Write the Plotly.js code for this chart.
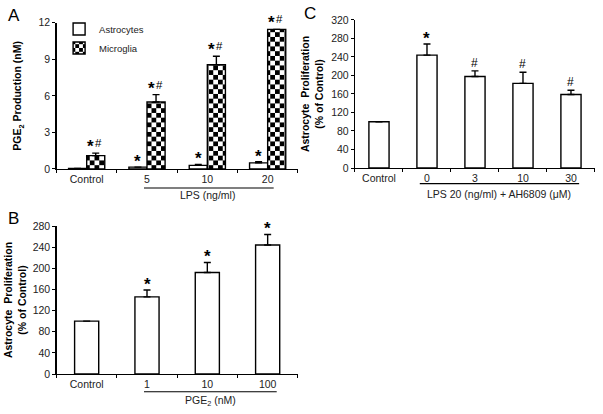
<!DOCTYPE html>
<html>
<head>
<meta charset="utf-8">
<script src="https://cdn.plot.ly/plotly-3.0.1.min.js"></script>
<style>
  body { margin: 0; background: #fff; }
  #graph { width: 603px; height: 414px; }
</style>
</head>
<body>
<div id="graph"></div>
<script>
// panel A - PGE2 production
var catsA = ['Control', '5', '10', '20'];
var astroA = [0.05, 0.15, 0.3, 0.5];
var astroErrA = [0, 0, 0.08, 0.1];
var microA = [1.1, 5.5, 8.55, 11.45];
var microErrA = [0.2, 0.6, 0.7, 0];
var astroMarkA = ['', '*', '*', '*'];
var microMarkA = ['*#', '*#', '*#', '*#'];

// panel B - PGE2 dose
var catsB = ['Control', '1', '10', '100'];
var valsB = [100, 146, 192, 244];
var errB = [0, 13, 19, 20];
var markB = ['', '*', '*', '*'];

// panel C - AH6809
var catsC = ['Control', '0', '3', '10', '30'];
var valsC = [100, 244, 198, 183, 159];
var errC = [0, 24, 12, 24, 9];
var markC = ['', '*', '#', '#', '#'];

var FONT = 'Liberation Sans, Arial, sans-serif';

function drawGraph() {
    var data, layout, annots = [], shapes = [];

    function bars(xs, ys, errs, xa, ya, name, w, off, pattern) {
        var t = {
            x: xs, y: ys, type: 'bar', xaxis: xa, yaxis: ya, name: name,
            width: w, offset: off,
            showlegend: !!name,
            marker: {color: 'white', line: {color: 'black', width: 1.4}},
            error_y: {type: 'data', array: errs, arrayminus: errs.map(function() { return 0; }),
                symmetric: false, color: 'black', thickness: 1.4, width: 3.5}
        };
        if(pattern) {
            t.marker.pattern = {shape: '+', size: 9.5, bgcolor: 'white', fgcolor: 'black', solidity: 0.5};
        }
        return t;
    }

    function note(xa, ya, x, y, txt, size, xsh, ysh) {
        annots.push({
            xref: xa, yref: ya, x: x, y: y, text: txt, showarrow: false,
            yanchor: 'bottom', xshift: xsh, yshift: ysh,
            font: {family: FONT, size: size, color: 'black'}
        });
    }

    // star / hash labels above the error bars
    function marks(labels, ys, errs, xa, ya, shift) {
        labels.forEach(function(m, i) {
            var x = i + shift, y = ys[i] + errs[i];
            if(m === '*#') {
                note(xa, ya, x, y, '<b>*</b>', 17, -5, -5);
                note(xa, ya, x, y, '#', 11.5, 3, 2);
            } else if(m === '*') {
                note(xa, ya, x, y, '<b>*</b>', 17, 0, -6);
            } else if(m) {
                note(xa, ya, x, y, m, 12, 0, -1);
            }
        });
    }

    data = [
        bars(catsA, astroA, astroErrA, 'x', 'y', 'Astrocytes', 0.3, -0.3, false),
        bars(catsA, microA, microErrA, 'x', 'y', 'Microglia', 0.3, 0, true),
        bars(catsB, valsB, errB, 'x2', 'y2', '', 0.4, -0.2, false),
        bars(catsC, valsC, errC, 'x3', 'y3', '', 0.42, -0.21, false)
    ];

    marks(astroMarkA, astroA, astroErrA, 'x', 'y', -0.15);
    marks(microMarkA, microA, microErrA, 'x', 'y', 0.15);
    marks(markB, valsB, errB, 'x2', 'y2', 0);
    marks(markC, valsC, errC, 'x3', 'y3', 0);

    // brackets under the dose groups
    function bracket(xa, ya, x0, x1, yLine, yText, xText, label) {
        shapes.push({type: 'line', xref: xa, yref: ya + ' domain', x0: x0, x1: x1, y0: yLine, y1: yLine,
            line: {color: 'black', width: 1.2}});
        annots.push({xref: xa, yref: ya + ' domain', x: xText, y: yText, text: label, showarrow: false,
            yanchor: 'middle', font: {family: FONT, size: 10.5, color: '#222'}});
    }
    bracket('x', 'y', 0.95, 3.1, -0.13, -0.178, 2, 'LPS (ng/ml)');
    bracket('x2', 'y2', 0.95, 3.15, -0.12, -0.18, 2.05, 'PGE<sub>2</sub> (nM)');
    bracket('x3', 'y3', 0.85, 4.17, -0.105, -0.176, 2.5, 'LPS 20 (ng/ml) + AH6809 (μM)');

    // panel letters
    [['A', 0.01, 0.99], ['B', 0.01, 0.5], ['C', 0.5, 0.995]].forEach(function(p) {
        annots.push({xref: 'paper', yref: 'paper', x: p[1], y: p[2], text: p[0], showarrow: false,
            xanchor: 'left', yanchor: 'top', font: {family: FONT, size: 17, color: 'black'}});
    });

    function xax(dom, n) {
        return {domain: dom, type: 'category', range: [-0.5, n - 0.5], showline: true, linecolor: 'black',
            linewidth: 1.2, ticks: 'outside', tickson: 'boundaries', ticklen: 3, tickcolor: 'black',
            showgrid: false, zeroline: false, tickfont: {family: FONT, size: 10.5, color: '#222'}};
    }
    function yax(dom, max, dt, title, standoff) {
        return {domain: dom, range: [0, max], dtick: dt, showline: true, linecolor: 'black', linewidth: 1.2,
            ticks: 'outside', ticklen: 3, tickcolor: 'black', showgrid: false, zeroline: false,
            tickfont: {family: FONT, size: 10.5, color: '#222'},
            title: {text: title, standoff: standoff, font: {family: FONT, size: 10.5, color: 'black'}}};
    }

    layout = {
        width: 603, height: 414,
        margin: {l: 0, r: 0, t: 0, b: 0},
        paper_bgcolor: 'white', plot_bgcolor: 'white',
        barmode: 'overlay',
        showlegend: true,
        legend: {x: 0.098, y: 0.965, xanchor: 'left', yanchor: 'top', bgcolor: 'rgba(0,0,0,0)',
            font: {family: FONT, size: 9.5, color: '#222'}},
        xaxis: xax([0.0937, 0.4939], catsA.length),
        yaxis: yax([0.5918, 0.9452], 12, 3, '<b>PGE<sub>2</sub> Production (nM)</b>', 14),
        xaxis2: xax([0.0937, 0.4939], catsB.length),
        yaxis2: yax([0.0966, 0.4541], 280, 40, '<b>Astrocyte  Proliferation<br>(% of Control)</b>', 4),
        xaxis3: xax([0.5887, 0.9867], catsC.length),
        yaxis3: yax([0.5942, 0.9517], 320, 40, '<b>Astrocyte  Proliferation<br>(% of Control)</b>', 5),
        annotations: annots,
        shapes: shapes
    };
    layout.xaxis2.anchor = 'y2';
    layout.yaxis2.anchor = 'x2';
    layout.xaxis3.anchor = 'y3';
    layout.yaxis3.anchor = 'x3';

    Plotly.newPlot('graph', data, layout, {staticPlot: true}).then(function(gd) {
        // plotly has no checkerboard pattern, so swap the pattern tiles for one
        var ns = 'http://www.w3.org/2000/svg';
        gd.querySelectorAll('pattern').forEach(function(p) {
            var w = parseFloat(p.getAttribute('width'));
            while(p.firstChild) p.removeChild(p.firstChild);
            [[0, 0, w, 'white'], [0, 0, w / 2, 'black'], [w / 2, w / 2, w / 2, 'black']].forEach(function(r) {
                var el = document.createElementNS(ns, 'rect');
                el.setAttribute('x', r[0]);
                el.setAttribute('y', r[1]);
                el.setAttribute('width', r[2]);
                el.setAttribute('height', r[2]);
                el.setAttribute('fill', r[3]);
                p.appendChild(el);
            });
        });
    });
}

drawGraph();
</script>
</body>
</html>
